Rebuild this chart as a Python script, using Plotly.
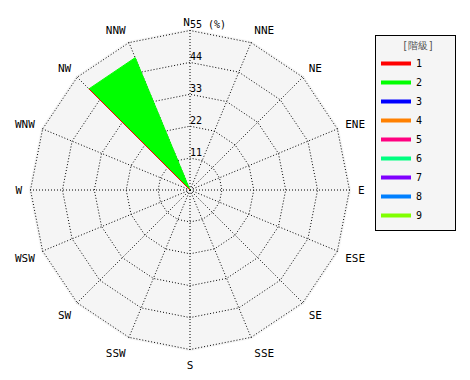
import plotly.graph_objects as go

directions = ["N", "NNE", "NE", "ENE", "E", "ESE", "SE", "SSE",
              "S", "SSW", "SW", "WSW", "W", "WNW", "NW", "NNW"]
levels = ["1", "2", "3", "4", "5", "6", "7", "8", "9"]
colors = ["#ff0000", "#00ff00", "#0000ff", "#ff8000", "#ff0080",
          "#00ff80", "#8000ff", "#0080ff", "#80ff00"]
# frequency (%) per direction for each level
level1 = [0, 0, 0, 0, 0, 0, 0, 0, 0, 0, 0, 0, 0, 0, 49.3, 0]
level2 = [0, 0, 0, 0, 0, 0, 0, 0, 0, 0, 0, 0, 0, 0, 49.3, 49.4]
zeros = [0] * 16
series = [level1, level2] + [zeros] * 7

radial_ticks = [0, 11, 22, 33, 44, 55]
radial_text = ["0", "11", "22", "33", "44", "55 (%)"]

FONT = "DejaVu Sans Mono"
DOT = "1px,2px"
RMAX = 55.6  # slightly beyond 55 so the outer 55 ring is drawn

cx, cy, R = 190, 190, 159.5 * RMAX / 55

# N is written separately (above-left of its spoke), the rest by the axis
dir_labels = ["" if d == "N" else d for d in directions]

fig = go.Figure()
# data traces: filled level 2 first, others on top
draw_order = [1, 0, 2, 3, 4, 5, 6, 7, 8]
for i in draw_order:
    vals = series[i]
    fig.add_trace(go.Scatterpolar(
        r=vals + [vals[0]],
        theta=directions + [directions[0]],
        mode="lines",
        name=levels[i],
        showlegend=False,
        line=dict(color=colors[i], width=1),
        fill="toself" if i == 1 else "none",
        fillcolor=colors[i],
    ))
# radial tick labels placed above-right of each ring on the N spoke
fig.add_trace(go.Scatterpolar(
    r=radial_ticks, theta=[directions[0]] * len(radial_ticks),
    mode="text", text=radial_text, textposition="top right",
    textfont=dict(family=FONT, size=10, color="black"),
    showlegend=False, hoverinfo="skip", cliponaxis=False,
))
# the N direction label, above-left of the top vertex
fig.add_trace(go.Scatterpolar(
    r=[RMAX], theta=[directions[0]],
    mode="text", text=[directions[0]], textposition="top left",
    textfont=dict(family=FONT, size=11, color="black"),
    showlegend=False, hoverinfo="skip", cliponaxis=False,
))
# legend entries (thick swatches)
for i, lv in enumerate(levels):
    fig.add_trace(go.Scatterpolar(
        r=[None], theta=[directions[0]],
        mode="lines", name=lv,
        line=dict(color=colors[i], width=4),
    ))

fig.update_layout(
    width=470, height=380,
    margin=dict(l=0, r=0, t=0, b=0),
    paper_bgcolor="white",
    font=dict(family=FONT, size=11, color="black"),
    polar=dict(
        domain=dict(x=[(cx - R) / 470, (cx + R) / 470],
                    y=[1 - (cy + R) / 380, 1 - (cy - R) / 380]),
        bgcolor="#f5f5f5",
        gridshape="linear",
        angularaxis=dict(
            direction="clockwise", rotation=90,
            categoryorder="array", categoryarray=directions,
            tickmode="array", tickvals=directions, ticktext=dir_labels,
            showgrid=True, gridcolor="black", griddash=DOT, gridwidth=1,
            showline=False,
            ticks="outside", ticklen=4, tickcolor="rgba(0,0,0,0)",
            tickfont=dict(family=FONT, size=11, color="black"),
        ),
        radialaxis=dict(
            range=[0, RMAX], angle=90,
            tickvals=radial_ticks, showticklabels=False,
            showgrid=True, gridcolor="black", griddash=DOT, gridwidth=1,
            showline=False, ticks="",
        ),
    ),
    legend=dict(
        x=375 / 470, y=1 - 35 / 380, xanchor="left", yanchor="top",
        bgcolor="#f5f5f5", bordercolor="black", borderwidth=1,
        title=dict(text="    [階級]   ", font=dict(color="#555555", size=10)),
        font=dict(family=FONT, size=10),
        traceorder="normal", tracegroupgap=0,
        itemwidth=30,
    ),
)

fig.write_html("out.html")
